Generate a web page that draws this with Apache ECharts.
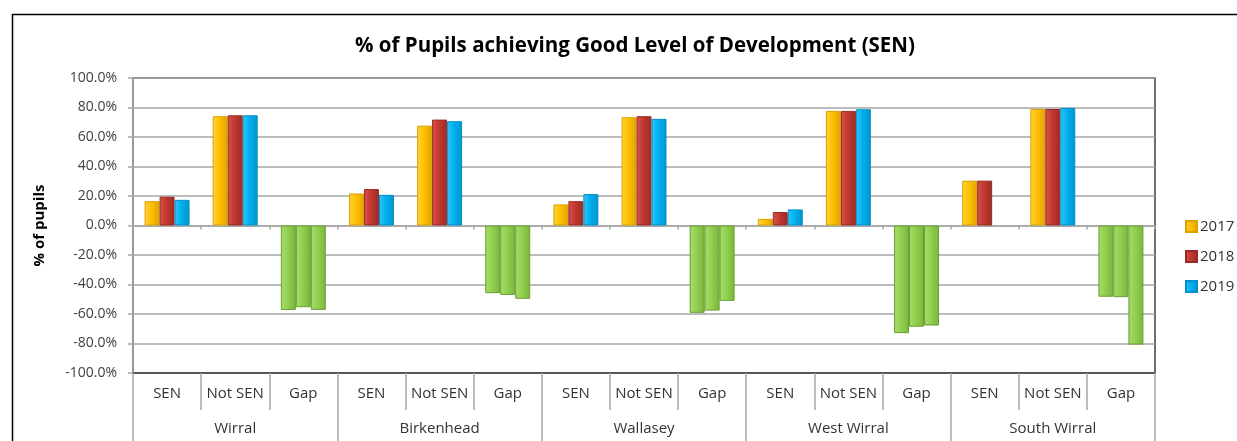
<!DOCTYPE html>
<html>
<head>
<meta charset="utf-8">
<script src="https://cdn.jsdelivr.net/npm/echarts@6/dist/echarts.min.js"></script>
<style>
  html, body { margin: 0; padding: 0; background: #fff; }
  #chart { width: 1237px; height: 441px; }
</style>
</head>
<body>
<div id="chart"></div>
<script>
const groups = ["Wirral", "Birkenhead", "Wallasey", "West Wirral", "South Wirral"];
const measures = ["SEN", "Not SEN", "Gap"];
const years = ["2017", "2018", "2019"];
const yTicks = [-100, -80, -60, -40, -20, 0, 20, 40, 60, 80, 100];

const y2017 = [16.5, 74.1, -57.3, 21.7, 67.7, -45.9, 14.3, 73.4, -59.2, 4.5, 77.7, -73.0, 30.4, 79.0, -48.3];
const y2018 = [19.5, 74.7, -55.4, 24.7, 71.8, -47.1, 16.5, 74.1, -57.7, 9.1, 77.7, -68.6, 30.4, 79.0, -48.6];
const y2019 = [17.4, 74.7, -57.2, 20.8, 70.7, -49.7, 21.3, 72.3, -51.1, 10.9, 78.8, -67.8, null, 79.7, -80.7];

const subCats = groups.flatMap(() => measures);
const font = "'Open Sans', 'Liberation Sans', sans-serif";

function bevel(light, mid, dark) {
  return new echarts.graphic.LinearGradient(0, 0, 1, 0, [
    { offset: 0, color: light },
    { offset: 0.45, color: mid },
    { offset: 1, color: dark },
  ]);
}

const colors = {
  2017: { fill: bevel("#ffd23d", "#ffc000", "#e0a400"), border: "#d9a300" },
  2018: { fill: bevel("#d9534f", "#c0392f", "#9e2b25"), border: "#9b2a24" },
  2019: { fill: bevel("#35c6f5", "#00b0f0", "#0094cc"), border: "#0090c8" },
};
const gap = { fill: bevel("#a8dd6a", "#92d050", "#78b53a"), border: "#6a9e35" };

function seriesFor(name, values) {
  return {
    name,
    type: "bar",
    xAxisIndex: 0,
    barGap: "0%",
    barCategoryGap: "34%",
    itemStyle: { color: colors[name].fill, borderColor: colors[name].border, borderWidth: 1 },
    data: values.map((v, i) =>
      subCats[i] === "Gap"
        ? { value: v, itemStyle: { color: gap.fill, borderColor: gap.border, borderWidth: 1 } }
        : v
    ),
  };
}

const chart = echarts.init(document.getElementById("chart"), null, { renderer: "canvas" });
chart.setOption({
  animation: false,
  textStyle: { fontFamily: font },
  title: {
    text: "% of Pupils achieving Good Level of Development (SEN)",
    left: 630,
    textAlign: "center",
    top: 31,
    textStyle: { fontFamily: font, fontWeight: "bold", fontSize: 20.5, color: "#000" },
  },
  graphic: [
    { type: "rect", left: 10, top: 12, shape: { width: 1400, height: 600 }, style: { fill: "none", stroke: "#000", lineWidth: 1.5 }, silent: true },
  ],
  legend: {
    orient: "vertical",
    left: 1180,
    top: 214,
    itemWidth: 11,
    itemHeight: 11,
    itemGap: 15,
    icon: "rect",
    data: years,
    textStyle: { fontSize: 15, color: "#333", fontFamily: font, padding: [0, 0, 0, -2] },
  },
  grid: {
    left: 133,
    right: 82,
    top: 78,
    bottom: 68,
    show: true,
    borderColor: "#404040",
    borderWidth: 1.5,
    backgroundColor: "#fff",
  },
  xAxis: [
    {
      type: "category",
      data: subCats,
      position: "bottom",
      axisLine: { onZero: false, lineStyle: { color: "#404040", width: 1.5 } },
      axisTick: { show: true, length: 37, lineStyle: { color: "#a6a6a6", width: 1.5 } },
      axisLabel: { margin: 13, fontSize: 15, color: "#333", interval: 0 },
      splitLine: { show: false },
    },
    {
      type: "category",
      data: groups,
      position: "bottom",
      axisLine: { show: false, onZero: false },
      axisTick: { show: true, length: 70, lineStyle: { color: "#a6a6a6", width: 1.5 } },
      axisLabel: { margin: 48, fontSize: 15, color: "#333", interval: 0 },
      splitLine: { show: false },
    },
    {
      type: "category",
      data: subCats,
      position: "bottom",
      axisLine: { show: true, onZero: true, lineStyle: { color: "#a6a6a6", width: 1.5 } },
      axisTick: { show: true, length: 4, lineStyle: { color: "#a6a6a6", width: 1.5 } },
      axisLabel: { show: false },
      splitLine: { show: false },
    },
  ],
  yAxis: {
    type: "value",
    min: yTicks[0],
    max: yTicks[yTicks.length - 1],
    interval: 20,
    name: "% of pupils",
    nameLocation: "middle",
    nameRotate: 90,
    nameGap: 86,
    nameTextStyle: { fontWeight: "bold", fontSize: 15, color: "#000", fontFamily: font },
    axisLine: { show: true, lineStyle: { color: "#a6a6a6", width: 1.5 } },
    axisTick: { show: true, length: 5, lineStyle: { color: "#a6a6a6", width: 1.5 } },
    axisLabel: { margin: 16, fontSize: 14, color: "#404040", formatter: (v) => v.toFixed(1) + "%" },
    splitLine: { lineStyle: { color: "#a6a6a6", width: 1.5 } },
  },
  series: [seriesFor("2017", y2017), seriesFor("2018", y2018), seriesFor("2019", y2019)],
});
</script>
</body>
</html>
